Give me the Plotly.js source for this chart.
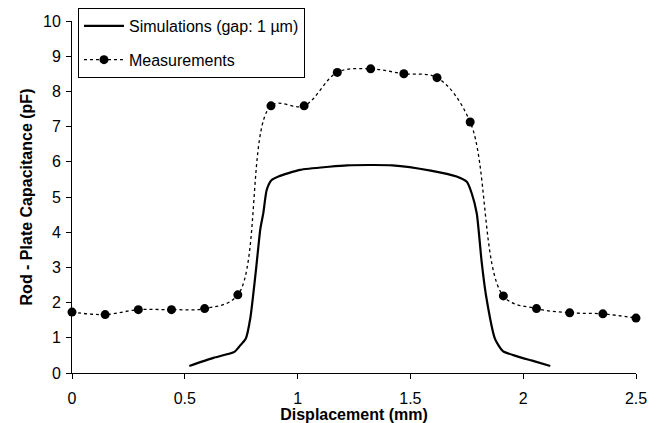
<!DOCTYPE html>
<html>
<head>
<meta charset="utf-8">
<script src="https://cdn.plot.ly/plotly-3.0.1.min.js"></script>
<style>
  html, body { margin: 0; padding: 0; background: #fff; }
  #chart { width: 661px; height: 423px; }
</style>
</head>
<body>
<div id="chart"></div>
<script>
// Simulated rod-plate capacitance versus displacement (gap: 1 µm)
const simX = [0.52, 0.627, 0.72, 0.74, 0.77, 0.79, 0.816, 0.835, 0.848, 0.863, 0.885, 0.915, 1.01, 1.14, 1.22, 1.42, 1.59, 1.705, 1.75, 1.772, 1.794, 1.816, 1.835, 1.875, 1.91, 1.97, 2.04, 2.12];
const simY = [0.2, 0.43, 0.6, 0.74, 0.97, 1.54, 2.96, 4.1, 4.54, 5.2, 5.48, 5.58, 5.77, 5.86, 5.9, 5.9, 5.75, 5.58, 5.43, 5.1, 4.54, 3.15, 2.21, 0.97, 0.62, 0.48, 0.35, 0.2];

// Measured capacitance
const measX = [0, 0.147, 0.294, 0.441, 0.588, 0.735, 0.882, 1.029, 1.176, 1.324, 1.471, 1.618, 1.765, 1.912, 2.059, 2.206, 2.353, 2.5];
const measY = [1.73, 1.66, 1.80, 1.80, 1.83, 2.22, 7.59, 7.59, 8.54, 8.64, 8.50, 8.39, 7.13, 2.19, 1.83, 1.71, 1.68, 1.56];

const seriesNames = ['Simulations (gap: 1 µm)', 'Measurements'];
const xTitle = 'Displacement (mm)';
const yTitle = 'Rod - Plate Capacitance (pF)';

const FONT = 'Liberation Sans, Arial, sans-serif';

const traces = [
  {
    x: simX, y: simY, name: seriesNames[0],
    type: 'scatter', mode: 'lines',
    line: { color: '#000', width: 2.2, shape: 'spline', smoothing: 0.6 },
    legendgroup: 'a'
  },
  {
    x: measX, y: measY, name: seriesNames[1],
    type: 'scatter', mode: 'lines+markers',
    line: { color: '#000', width: 1.3, dash: '3px,3px', shape: 'spline', smoothing: 1 },
    marker: { color: '#000', size: 9 },
    cliponaxis: false,
    legendgroup: 'b'
  }
];

const layout = {
  width: 661, height: 423,
  // fixed margins: the legend sits partly above the plot area without pushing it down
  margin: { l: 72, r: 25, t: 21, b: 50, autoexpand: false },
  paper_bgcolor: '#fff', plot_bgcolor: '#fff',
  font: { family: FONT, color: '#000', size: 16 },
  showlegend: true,
  legend: {
    x: 0.0106, y: 1.037, xanchor: 'left', yanchor: 'top',
    bordercolor: '#000', borderwidth: 1, bgcolor: '#fff',
    font: { family: FONT, size: 16, color: '#000' },
    traceorder: 'grouped', tracegroupgap: 10,
    itemwidth: 40
  },
  xaxis: {
    range: [0, 2.5], dtick: 0.5, tick0: 0,
    showgrid: false, zeroline: false,
    showline: true, linecolor: '#000', linewidth: 1,
    ticks: 'outside', ticklen: 5, tickcolor: '#000', tickwidth: 1,
    ticklabelstandoff: 6,
    tickfont: { family: FONT, size: 16 },
    title: { text: xTitle, font: { family: FONT, size: 16, weight: 'bold' }, standoff: 0 }
  },
  yaxis: {
    range: [0, 10], dtick: 1, tick0: 0,
    showgrid: false, zeroline: false,
    showline: true, linecolor: '#000', linewidth: 1,
    ticks: 'outside', ticklen: 5, tickcolor: '#000', tickwidth: 1,
    ticklabelstandoff: 2,
    tickfont: { family: FONT, size: 16 },
    title: { text: yTitle, font: { family: FONT, size: 16, weight: 'bold' }, standoff: 6 }
  }
};

Plotly.newPlot('chart', traces, layout, { displayModeBar: false, staticPlot: true });
</script>
</body>
</html>
